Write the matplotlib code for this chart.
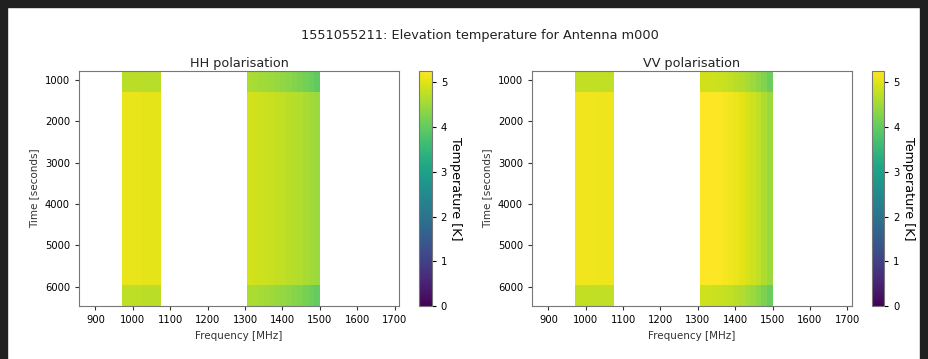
import numpy as np
import matplotlib
matplotlib.use("Agg")
import matplotlib.pyplot as plt
from matplotlib.patches import Rectangle

# time rows (edges, seconds) and frequency columns (edges, MHz)
time_edges = [775, 1298, 5960, 6467]
band1_edges = [970, 1022.5, 1075]
band2_edges = [1305, 1320, 1335, 1350, 1365, 1380, 1395, 1410, 1425,
               1440, 1455, 1470, 1485, 1500]

# HH temperatures [K], rows = time, columns = band1 then band2
hh_band1 = [[4.72, 4.70],
            [5.08, 5.04],
            [4.74, 4.72]]
hh_band2 = [[4.60, 4.57, 4.54, 4.51, 4.47, 4.43, 4.39, 4.34, 4.28, 4.22, 4.15, 4.07, 3.98],
            [4.90, 4.88, 4.86, 4.84, 4.81, 4.78, 4.75, 4.71, 4.67, 4.63, 4.58, 4.53, 4.47],
            [4.62, 4.59, 4.56, 4.53, 4.49, 4.45, 4.41, 4.36, 4.30, 4.24, 4.17, 4.09, 4.00]]

# VV temperatures [K]
vv_band1 = [[4.78, 4.76],
            [5.14, 5.12],
            [4.77, 4.75]]
vv_band2 = [[4.88, 4.88, 4.86, 4.84, 4.81, 4.77, 4.72, 4.65, 4.57, 4.48, 4.37, 4.24, 4.08],
            [5.24, 5.25, 5.24, 5.22, 5.19, 5.15, 5.10, 5.03, 4.95, 4.86, 4.75, 4.62, 4.46],
            [4.86, 4.86, 4.84, 4.82, 4.79, 4.75, 4.70, 4.63, 4.55, 4.46, 4.35, 4.22, 4.06]]

freq_min, freq_max = 856, 1712
vmax = 5.26

W, H = 929, 359


def rect(l, t, r, b):
    return [l / W, 1 - b / H, (r - l) / W, (b - t) / H]


def build(b1, b2):
    gap = np.full((3, 1), np.nan)
    return np.ma.masked_invalid(np.hstack([np.array(b1), gap, np.array(b2)]))


x_edges = band1_edges + band2_edges

fig = plt.figure(figsize=(W / 100, H / 100), dpi=100)
dark = "#202020"
for r in [(0, 0, 7, H), (0, H - 7, W, 7), (920, 0, 9, H)]:
    fig.patches.append(Rectangle((r[0] / W, r[1] / H), r[2] / W, r[3] / H,
                                 transform=fig.transFigure, color=dark, zorder=10))

panels = [("HH polarisation", hh_band1, hh_band2, (79, 70.7, 399, 306), (419.3, 70.7, 431.7, 306)),
          ("VV polarisation", vv_band1, vv_band2, (532, 70.7, 851.7, 306), (872.3, 70.7, 884.3, 306))]

for title, b1, b2, axr, caxr in panels:
    ax = fig.add_axes(rect(*axr))
    cax = fig.add_axes(rect(*caxr))
    data = build(b1, b2)
    mesh = ax.pcolormesh(x_edges, time_edges, data, cmap="viridis", vmin=0, vmax=vmax)
    ax.set_xlim(freq_min, freq_max)
    ax.set_ylim(time_edges[-1], time_edges[0])
    ax.set_xticks(range(900, 1701, 100))
    ax.set_yticks(range(1000, 6001, 1000))
    ax.tick_params(labelsize=7.2, length=3, color="#333333")
    ax.set_xlabel("Frequency [MHz]", fontsize=7.5, color="#333333")
    ax.set_ylabel("Time [seconds]", fontsize=7.5, color="#333333")
    ax.set_title(title, fontsize=9.2, color="#222222", pad=3)
    for s in ax.spines.values():
        s.set_color("#777777")
    cb = fig.colorbar(mesh, cax=cax)
    cb.set_ticks(range(0, 6))
    cb.ax.tick_params(labelsize=7.2, length=3)
    cb.set_label("Temperature [K]", rotation=270, fontsize=9.2, labelpad=11)
    cb.outline.set_edgecolor("#777777")

fig.text(480 / W, 1 - 36 / H, "1551055211: Elevation temperature for Antenna m000",
         ha="center", va="center", fontsize=9.3, color="#222222")

fig.savefig("out.png", dpi=100)
